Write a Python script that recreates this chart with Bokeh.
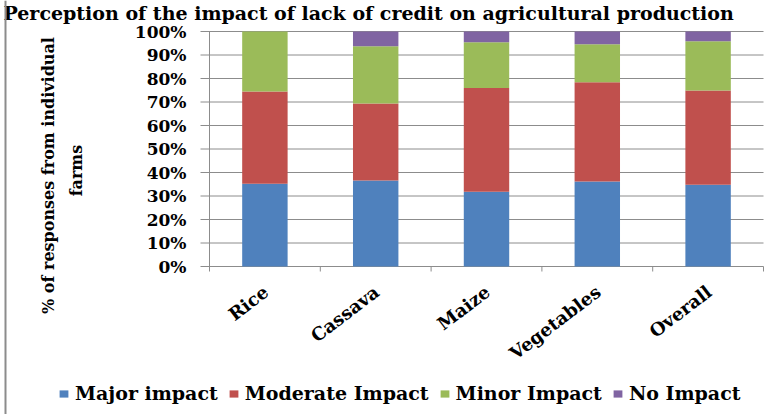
import math
from bokeh.plotting import figure
from bokeh.models import (Range1d, Legend, LegendItem, Label,
                          ColumnDataSource, Span)
from bokeh.core.properties import value
from bokeh.embed import file_html
from bokeh.resources import INLINE

# ---- data (percent of responses) ----
categories = ["Rice", "Cassava", "Maize", "Vegetables", "Overall"]
major_impact = [35.2, 36.6, 31.8, 36.2, 34.8]
moderate_impact = [39.3, 32.8, 44.2, 42.2, 40.1]
minor_impact = [25.5, 24.3, 19.4, 16.2, 21.0]
no_impact = [0.0, 6.3, 4.6, 5.4, 4.1]
series_names = ["Major impact", "Moderate Impact", "Minor Impact", "No Impact"]
series_colors = ["#4F81BD", "#C0504D", "#9BBB59", "#8064A2"]
y_ticks = [0, 10, 20, 30, 40, 50, 60, 70, 80, 90, 100]
y_tick_labels = ["%d%%" % t for t in y_ticks]
title_text = "Perception of the impact of lack of credit on agricultural production"
ylabel_lines = ["% of responses from individual", "farms"]

FONT = "DejaVu Serif"
GRID = "#8c8c8c"
W, H = 775, 414

# ---- layout (pixels on the canvas) ----
PLOT_LEFT, PLOT_RIGHT, PLOT_TOP, PLOT_BOTTOM = 209, 763, 31, 266
PX_PER_CAT = (PLOT_RIGHT - PLOT_LEFT) / len(categories)
PX_PER_PCT = (PLOT_BOTTOM - PLOT_TOP) / (y_ticks[-1] - y_ticks[0])


def px_x(px):
    return (px - PLOT_LEFT) / PX_PER_CAT


def px_y(py):
    return (PLOT_BOTTOM - py) / PX_PER_PCT


centers = [i + 0.5 for i in range(len(categories))]
bounds = [i for i in range(len(categories) + 1)]

source = ColumnDataSource(data={
    "x": centers,
    series_names[0]: major_impact,
    series_names[1]: moderate_impact,
    series_names[2]: minor_impact,
    series_names[3]: no_impact,
})

p = figure(width=W, height=H, output_backend="svg", toolbar_location=None,
           x_axis_type=None, y_axis_type=None,
           x_range=Range1d(px_x(0), px_x(W)), y_range=Range1d(px_y(H), px_y(0)),
           min_border=0, min_border_left=0, min_border_right=0,
           min_border_top=0, min_border_bottom=0)
p.outline_line_color = None
p.background_fill_color = "white"
p.border_fill_color = "white"
p.xgrid.visible = False
p.ygrid.visible = False

n_y = len(y_ticks)
n_b = len(bounds)

# horizontal gridlines (they also form the outward y tick marks)
p.segment(x0=[px_x(PLOT_LEFT - 9)] * n_y, x1=[bounds[-1]] * n_y,
          y0=y_ticks, y1=y_ticks, line_color=GRID, line_width=1)
# y axis line
p.segment(x0=[bounds[0]], x1=[bounds[0]], y0=[y_ticks[0]], y1=[y_ticks[-1]],
          line_color=GRID, line_width=1)
# x axis tick marks between categories
p.segment(x0=bounds, x1=bounds, y0=[y_ticks[0]] * n_b,
          y1=[px_y(PLOT_BOTTOM + 5)] * n_b, line_color=GRID, line_width=1)

renderers = p.vbar_stack(series_names, x="x", width=0.41, fill_color=series_colors,
                         line_color=None, source=source)

# y tick labels
p.text(x=[px_x(PLOT_LEFT - 23)] * n_y, y=y_ticks, text=y_tick_labels,
       text_align="right", text_baseline="middle", text_font=value(FONT),
       text_font_style="bold", text_font_size="17px", text_color="black")

# category labels
p.text(x=centers, y=[y_ticks[0]] * len(categories), text=categories,
       angle=0.65, text_align="right", text_baseline="middle",
       x_offset=1, y_offset=23, text_font=value(FONT),
       text_font_style="bold", text_font_size="18px", text_color="black")

# y axis title (two lines)
for txt, cx, cy in zip(ylabel_lines, [48, 76], [175, 170]):
    p.add_layout(Label(x=px_x(cx), y=px_y(cy), text=txt, angle=math.pi / 2,
                       text_align="center", text_baseline="middle",
                       text_font=FONT, text_font_style="bold",
                       text_font_size="16px", text_color="black"))

# chart title
p.add_layout(Label(x=px_x(3), y=px_y(1), text=title_text, text_align="left",
                   text_baseline="top", text_font=FONT, text_font_style="bold",
                   text_font_size="19px", text_color="black"))

# chart area border (left edge)
p.add_layout(Span(location=px_x(5), dimension="height", line_color=GRID,
                  line_width=2))

legend = Legend(items=[LegendItem(label=n, renderers=[r])
                       for n, r in zip(series_names, renderers)],
                orientation="horizontal", location=(58, 10),
                border_line_color=None, background_fill_alpha=0,
                padding=0, margin=0, spacing=10, label_standoff=6,
                glyph_width=11, glyph_height=9,
                label_text_font=FONT, label_text_font_style="bold",
                label_text_font_size="19px", label_text_color="black")
p.add_layout(legend, "center")

open("out.html", "w").write(file_html(p, INLINE))
